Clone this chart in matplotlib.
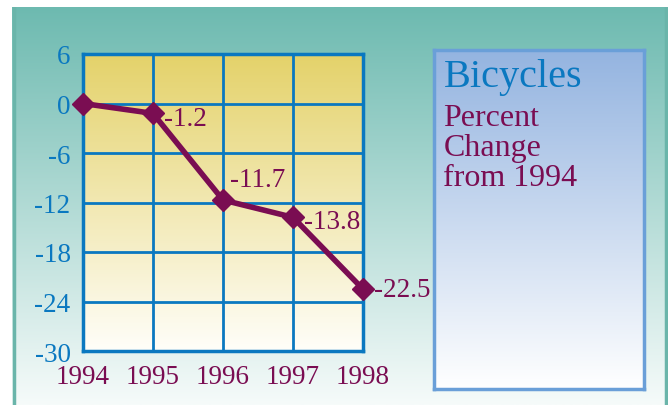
import matplotlib
matplotlib.use("Agg")
import matplotlib.pyplot as plt
import numpy as np
from matplotlib.colors import LinearSegmentedColormap

years = [1994, 1995, 1996, 1997, 1998]
change = [0.0, -1.2, -11.7, -13.8, -22.5]
point_labels = ["", "-1.2", "-11.7", "-13.8", "-22.5"]
yticks = [6, 0, -6, -12, -18, -24, -30]

W, H = 672, 406
BLUE, PLUM = "#0a78c0", "#7a0d52"
SERIF = ["Liberation Serif", "DejaVu Serif"]
plt.rcParams["font.family"] = SERIF


def grad(ax, top, bottom):
    cmap = LinearSegmentedColormap.from_list("g", [bottom, top])
    g = np.linspace(0, 1, 256).reshape(-1, 1)
    ax.imshow(g, cmap=cmap, aspect="auto", origin="lower",
              extent=[0, 1, 0, 1], transform=ax.transAxes, zorder=0)


def px(x0, y0, x1, y1):
    return [x0 / W, 1 - y1 / H, (x1 - x0) / W, (y1 - y0) / H]


fig = plt.figure(figsize=(W / 100, H / 100), dpi=100, facecolor="white")

# teal backdrop panel
bg = fig.add_axes(px(12, 8, 668, 406))
grad(bg, "#6dbab0", "#f6fbfa")
bg.set_xticks([]); bg.set_yticks([])
for s in bg.spines.values():
    s.set_visible(False)
bg.axvline(0.003, color="#6ab5aa", lw=2.5)
bg.axvline(0.997, color="#6ab5aa", lw=2.5)

# chart
ax = fig.add_axes(px(83, 55, 363, 352))
grad(ax, "#e4d26a", "#fffef9")
ax.set_xlim(1994, 1998)
ax.set_ylim(-30, 6)
ax.set_xticks(years)
ax.set_yticks(yticks)
ax.grid(True, color=BLUE, lw=2, zorder=1)
for s in ax.spines.values():
    s.set_color(BLUE); s.set_linewidth(2.5); s.set_zorder(2)
ax.tick_params(axis="y", length=0, pad=9)
ax.tick_params(axis="x", length=0, pad=9)
ax.set_xticklabels([str(y) for y in years], color=PLUM, fontsize=19.5)
ax.set_yticklabels([str(v) for v in yticks], color=BLUE, fontsize=19.5)
ax.plot(years, change, color=PLUM, lw=4, marker="D", ms=11,
        clip_on=False, zorder=5)
offsets = [(0, 0), (8, -4), (5, 15), (8, -3), (8, 0)]
for x, y, t, (dx, dy) in zip(years, change, point_labels, offsets):
    if t:
        ax.annotate(t, (x, y), xytext=(dx, dy), textcoords="offset points",
                    ha="left", va="center", color=PLUM, fontsize=19.5,
                    zorder=6, annotation_clip=False)

# title box
tb = fig.add_axes(px(434, 51, 644, 390))
grad(tb, "#94b4e0", "#ffffff")
tb.set_xticks([]); tb.set_yticks([])
for s in tb.spines.values():
    s.set_color("#6a9fd8"); s.set_linewidth(2.5)
tb.text(0.045, 0.975, "Bicycles", transform=tb.transAxes, color=BLUE,
        fontsize=29, va="top", ha="left")
tb.text(0.045, 0.845, "Percent\nChange\nfrom 1994", transform=tb.transAxes,
        color=PLUM, fontsize=23, va="top", ha="left", linespacing=1.05)

fig.savefig("out.png", dpi=100)
